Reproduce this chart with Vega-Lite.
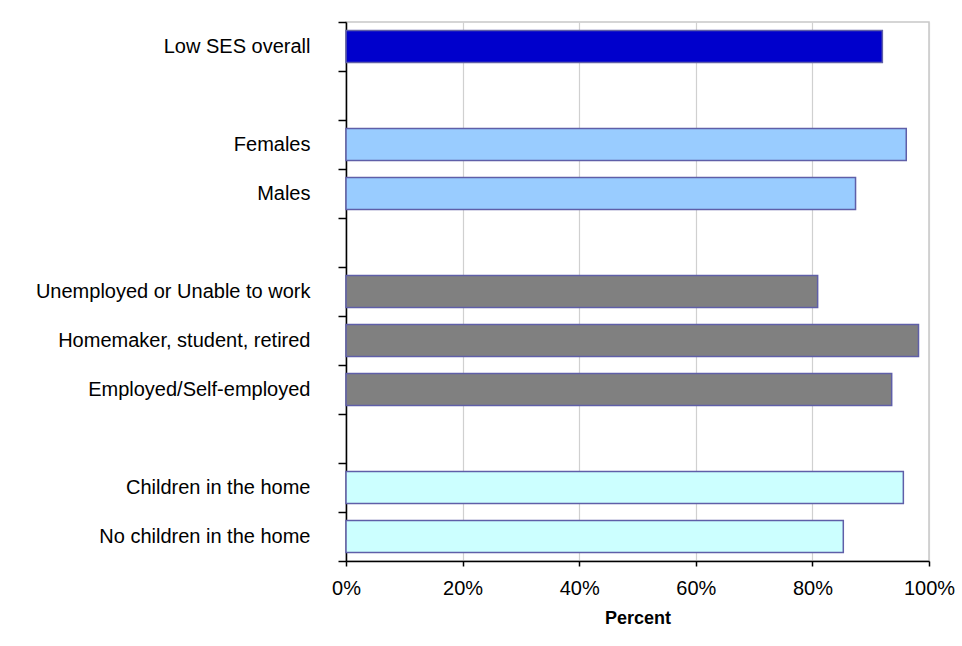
{
  "$schema": "https://vega.github.io/schema/vega-lite/v6.json",
  "width": 583,
  "height": 539,
  "autosize": {"type": "none"},
  "padding": {"left": 346, "top": 22, "right": 33, "bottom": 85},
  "background": "white",
  "config": {
    "font": "Liberation Sans",
    "view": {"stroke": "#c8c8c8", "strokeWidth": 1.5}
  },
  "data": {
    "values": [
      {"category": "Low SES overall", "group": "overall", "value": 0.92},
      {"category": "Females", "group": "gender", "value": 0.961},
      {"category": "Males", "group": "gender", "value": 0.874},
      {"category": "Unemployed or Unable to work", "group": "employment", "value": 0.809},
      {"category": "Homemaker, student, retired", "group": "employment", "value": 0.982},
      {"category": "Employed/Self-employed", "group": "employment", "value": 0.936},
      {"category": "Children in the home", "group": "children", "value": 0.956},
      {"category": "No children in the home", "group": "children", "value": 0.853}
    ]
  },
  "mark": {"type": "bar", "height": {"band": 0.655}, "stroke": "#5f5fa8", "strokeWidth": 1.5},
  "encoding": {
    "y": {
      "field": "category",
      "type": "nominal",
      "sort": null,
      "scale": {
        "domain": ["Low SES overall", " ", "Females", "Males", "  ", "Unemployed or Unable to work", "Homemaker, student, retired", "Employed/Self-employed", "   ", "Children in the home", "No children in the home"],
        "paddingInner": 0,
        "paddingOuter": 0
      },
      "axis": {
        "title": null,
        "tickBand": "extent",
        "domainColor": "#000000",
        "domainWidth": 1.5,
        "tickColor": "#000000",
        "tickWidth": 1.5,
        "tickSize": 8,
        "labelFontSize": 20,
        "labelColor": "#000000",
        "labelPadding": 28,
        "labelLimit": 400,
        "grid": false
      }
    },
    "x": {
      "field": "value",
      "type": "quantitative",
      "scale": {"domain": [0, 1], "nice": false},
      "axis": {
        "title": "Percent",
        "titleFontSize": 18,
        "titleFontWeight": "bold",
        "titleColor": "#000000",
        "titlePadding": 11,
        "values": [0, 0.2, 0.4, 0.6, 0.8, 1],
        "format": ".0%",
        "labelFlush": false,
        "labelOverlap": false,
        "domainColor": "#000000",
        "domainWidth": 1.5,
        "tickColor": "#000000",
        "tickWidth": 1.5,
        "tickSize": 5,
        "labelFontSize": 20,
        "labelColor": "#000000",
        "labelPadding": 12,
        "grid": true,
        "gridColor": "#d0d0d0",
        "gridWidth": 1.2
      }
    },
    "color": {
      "field": "group",
      "type": "nominal",
      "scale": {"domain": ["overall", "gender", "employment", "children"], "range": ["#0000CC", "#99CCFF", "#808080", "#CCFFFF"]},
      "legend": null
    }
  }
}
